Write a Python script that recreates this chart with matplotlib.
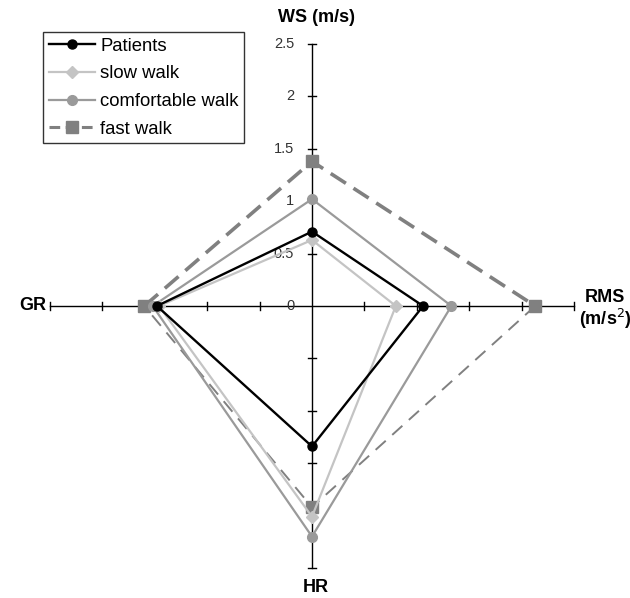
import matplotlib

matplotlib.use("Agg")
import matplotlib.pyplot as plt  # noqa: E402
from matplotlib.lines import Line2D  # noqa: E402

plt.rcParams["font.family"] = ["Liberation Sans", "DejaVu Sans"]

# radar axes, clockwise from the top
AXES = ["WS", "RMS", "HR", "GR"]
TICKS = [0, 0.5, 1, 1.5, 2, 2.5]
TICK_LABELS = ["0", "0.5", "1", "1.5", "2", "2.5"]

patients = [0.71, 1.06, 1.34, 1.48]
slow_walk = [0.63, 0.80, 2.01, 1.46]
comfortable_walk = [1.02, 1.33, 2.20, 1.52]
fast_walk = [1.38, 2.13, 1.92, 1.60]

# unit direction of each spoke on the cross
DIRS = {"WS": (0, 1), "RMS": (1, 0), "HR": (0, -1), "GR": (-1, 0)}


def _xy(values):
    xs = [DIRS[a][0] * v for a, v in zip(AXES, values)]
    ys = [DIRS[a][1] * v for a, v in zip(AXES, values)]
    return xs + xs[:1], ys + ys[:1]


W, H = 630, 598
CX, CY, PX = 312, 306, 104.8  # centre in pixels, pixels per unit

fig = plt.figure(figsize=(W / 100, H / 100), dpi=100)
ax = fig.add_axes([0, 0, 1, 1])
ax.set_xlim(-CX / PX, (W - CX) / PX)
ax.set_ylim(-(H - CY) / PX, CY / PX)
ax.axis("off")

# the cross with tick marks
R = 2.5
t = 0.04
ax.plot([-R, R], [0, 0], color="black", lw=1.0, zorder=1)
ax.plot([0, 0], [-R, R], color="black", lw=1.0, zorder=1)
for v in TICKS[1:]:
    for s in (1, -1):
        ax.plot([s * v, s * v], [-t, t], color="black", lw=1.0, zorder=1)
        ax.plot([-t, t], [s * v, s * v], color="black", lw=1.0, zorder=1)
for v, lab in zip(TICKS, TICK_LABELS):
    ax.text(-0.17, v, lab, ha="right", va="center", fontsize=10.5, color="#333333", zorder=1)

# fast walk: upper half drawn heavier than the lower half
fx, fy = _xy(fast_walk)
FAST = "#808080"
ax.plot([fx[3], fx[0], fx[1]], [fy[3], fy[0], fy[1]], color=FAST, lw=2.6,
        dashes=(5, 2.5), zorder=2)
ax.plot([fx[1], fx[2], fx[3]], [fy[1], fy[2], fy[3]], color=FAST, lw=1.4,
        dashes=(7, 4.5), zorder=2)
ax.plot(fx[:-1], fy[:-1], ls="none", marker="s", ms=9, color=FAST, zorder=2)

styles = [
    (comfortable_walk, "#9a9a9a", "o", 7, 1.6),
    (slow_walk, "#c4c4c4", "D", 6, 1.6),
    (patients, "black", "o", 6.5, 1.7),
]
for values, color, marker, ms, lw in styles:
    x, y = _xy(values)
    ax.plot(x, y, color=color, lw=lw, marker=marker, ms=ms, markevery=[0, 1, 2, 3], zorder=3)

# spoke names
bold = dict(fontsize=13, fontweight="bold", color="black")
ax.text(0.04, (CY - 18) / PX, "WS (m/s)", ha="center", va="center", **bold)
ax.text((605 - CX) / PX, 0.08, "RMS", ha="center", va="center", **bold)
ax.text((605 - CX) / PX, -0.12, "(m/s$^{2}$)", ha="center", va="center", **bold)
ax.text((33 - CX) / PX, 0, "GR", ha="center", va="center", **bold)
ax.text(0.04, -(587 - CY) / PX, "HR", ha="center", va="center", **bold)

handles = [
    Line2D([], [], color="black", lw=1.7, marker="o", ms=6.5),
    Line2D([], [], color="#c4c4c4", lw=1.6, marker="D", ms=6),
    Line2D([], [], color="#9a9a9a", lw=1.6, marker="o", ms=7),
    Line2D([], [], color=FAST, lw=2.2, marker="s", ms=8, dashes=(3.5, 1.8)),
]
labels = ["Patients", "slow walk", "comfortable walk", "fast walk"]
leg = fig.legend(handles, labels, loc="upper left", bbox_to_anchor=(43 / W, 1 - 32 / H),
                 fontsize=13.3, frameon=True, fancybox=False, handlelength=2.5,
                 handletextpad=0.3, borderpad=0.3, labelspacing=0.58, borderaxespad=0)
leg.get_frame().set_edgecolor("black")
leg.get_frame().set_linewidth(1.0)

fig.savefig("out.png", dpi=100)
